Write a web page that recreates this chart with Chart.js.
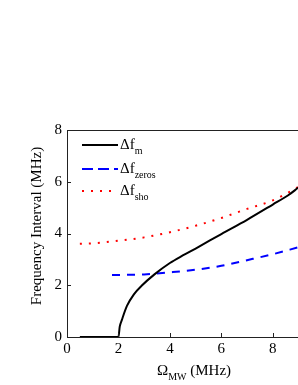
<!DOCTYPE html>
<html>
<head>
<meta charset="utf-8">
<script src="https://cdn.jsdelivr.net/npm/chart.js@4"></script>
<style>
  html, body { margin: 0; padding: 0; background: #fff; }
  #wrap { width: 298px; height: 385px; position: relative; }
</style>
</head>
<body>
<div id="wrap"><canvas id="chart"></canvas></div>
<script>
// Data
const mX = [0.5, 1, 1.5, 2, 2.05, 2.13, 2.33, 2.6, 2.9, 3.4, 4, 4.5, 5, 6, 7, 8, 8.6, 9];
const mY = [0, 0, 0, 0, 0.4, 0.65, 1.2, 1.65, 1.98, 2.42, 2.86, 3.15, 3.42, 3.98, 4.53, 5.12, 5.48, 5.78];

const zerosX = [1.75, 2, 3, 4, 5, 6, 7, 8, 9];
const zerosY = [2.4, 2.4, 2.42, 2.5, 2.6, 2.75, 2.97, 3.2, 3.47];

const shoX = [0.5, 1, 2, 3, 4, 5, 6, 7, 8, 9];
const shoY = [3.6, 3.62, 3.72, 3.85, 4.05, 4.3, 4.6, 4.95, 5.28, 5.8];

const xTicks = [0, 2, 4, 6, 8];
const yTicks = [0, 2, 4, 6, 8];

const serif = "'Liberation Serif', 'Times New Roman', serif";

function pts(xs, ys) {
  return xs.map((x, i) => ({ x: x, y: ys[i] }));
}

// text with a subscript, e.g. Δf + m
function subText(ctx, main, sub, x, y, size) {
  ctx.font = size + 'px ' + serif;
  ctx.fillText(main, x, y);
  const w = ctx.measureText(main).width;
  ctx.font = Math.round(size * 0.68) + 'px ' + serif;
  ctx.fillText(sub, x + w, y + size * 0.3);
  return w + ctx.measureText(sub).width;
}

const decorPlugin = {
  id: 'decor',
  afterDraw(chart) {
    const ctx = chart.ctx;
    const a = chart.chartArea;
    const xs = chart.scales.x, ys = chart.scales.y;
    ctx.save();
    ctx.strokeStyle = '#222';
    ctx.lineWidth = 1;
    // top frame
    ctx.beginPath();
    ctx.moveTo(a.left, a.top + 0.5);
    ctx.lineTo(a.right, a.top + 0.5);
    ctx.stroke();
    // inward ticks
    ctx.beginPath();
    xTicks.forEach(v => {
      const px = Math.round(xs.getPixelForValue(v)) + 0.5;
      ctx.moveTo(px, a.bottom);
      ctx.lineTo(px, a.bottom - 4);
    });
    yTicks.forEach(v => {
      const py = Math.round(ys.getPixelForValue(v)) + 0.5;
      ctx.moveTo(a.left, py);
      ctx.lineTo(a.left + 4, py);
    });
    ctx.stroke();

    // legend
    const lx0 = 82, lx1 = 118;
    const rows = [
      { y: 145, color: '#000', dash: [], main: 'Δf', sub: 'm' },
      { y: 169, color: '#0000ff', dash: [11, 5], main: 'Δf', sub: 'zeros' },
      { y: 191, color: '#ff0000', dash: [2, 7], main: 'Δf', sub: 'sho' }
    ];
    rows.forEach(r => {
      ctx.strokeStyle = r.color;
      ctx.lineWidth = 2;
      ctx.setLineDash(r.dash);
      ctx.beginPath();
      ctx.moveTo(lx0, r.y);
      ctx.lineTo(lx1, r.y);
      ctx.stroke();
      ctx.setLineDash([]);
      ctx.fillStyle = '#000';
      ctx.textBaseline = 'alphabetic';
      ctx.textAlign = 'left';
      subText(ctx, r.main, r.sub, 120, r.y + 4, 15);
    });

    // y axis title
    ctx.fillStyle = '#000';
    ctx.save();
    ctx.translate(37, 226);
    ctx.rotate(-Math.PI / 2);
    ctx.font = '15px ' + serif;
    ctx.textAlign = 'center';
    ctx.textBaseline = 'middle';
    ctx.fillText('Frequency Interval (MHz)', 0, 0);
    ctx.restore();

    // x axis title with subscript
    ctx.textAlign = 'left';
    ctx.textBaseline = 'alphabetic';
    const w = subText(ctx, 'Ω', 'MW', 157, 375, 15);
    ctx.font = '15px ' + serif;
    ctx.fillText(' (MHz)', 157 + w, 375);
    ctx.restore();
  }
};

const ctx = document.getElementById('chart').getContext('2d');
new Chart(ctx, {
  type: 'scatter',
  data: {
    datasets: [
      {
        label: 'Δf_m',
        data: pts(mX, mY),
        showLine: true,
        borderColor: '#000',
        borderWidth: 2,
        pointRadius: 0,
        cubicInterpolationMode: 'monotone'
      },
      {
        label: 'Δf_zeros',
        data: pts(zerosX, zerosY),
        showLine: true,
        borderColor: '#0000ff',
        borderWidth: 2,
        borderDash: [8, 7],
        pointRadius: 0,
        cubicInterpolationMode: 'monotone'
      },
      {
        label: 'Δf_sho',
        data: pts(shoX, shoY),
        showLine: true,
        borderColor: '#ff0000',
        borderWidth: 2,
        borderDash: [2, 7],
        pointRadius: 0,
        cubicInterpolationMode: 'monotone'
      }
    ]
  },
  options: {
    responsive: true,
    maintainAspectRatio: false,
    animation: false,
    layout: { padding: { top: 130, right: 0, left: 0, bottom: 0 } },
    plugins: {
      legend: { display: false },
      tooltip: { enabled: false }
    },
    scales: {
      x: {
        type: 'linear',
        min: 0,
        max: 8.98,
        afterBuildTicks: s => { s.ticks = xTicks.map(v => ({ value: v })); },
        afterFit: s => { s.height = 48; },
        grid: { display: false, drawTicks: false },
        border: { display: true, color: '#222', width: 1 },
        ticks: {
          color: '#000',
          padding: 3,
          font: { family: serif, size: 15 }
        }
      },
      y: {
        min: 0,
        max: 8,
        afterBuildTicks: s => { s.ticks = yTicks.map(v => ({ value: v })); },
        afterFit: s => { s.width = 67; },
        grid: { display: false, drawTicks: false },
        border: { display: true, color: '#222', width: 1 },
        ticks: {
          color: '#000',
          padding: 5,
          font: { family: serif, size: 15 }
        }
      }
    }
  },
  plugins: [decorPlugin]
});
</script>
</body>
</html>
